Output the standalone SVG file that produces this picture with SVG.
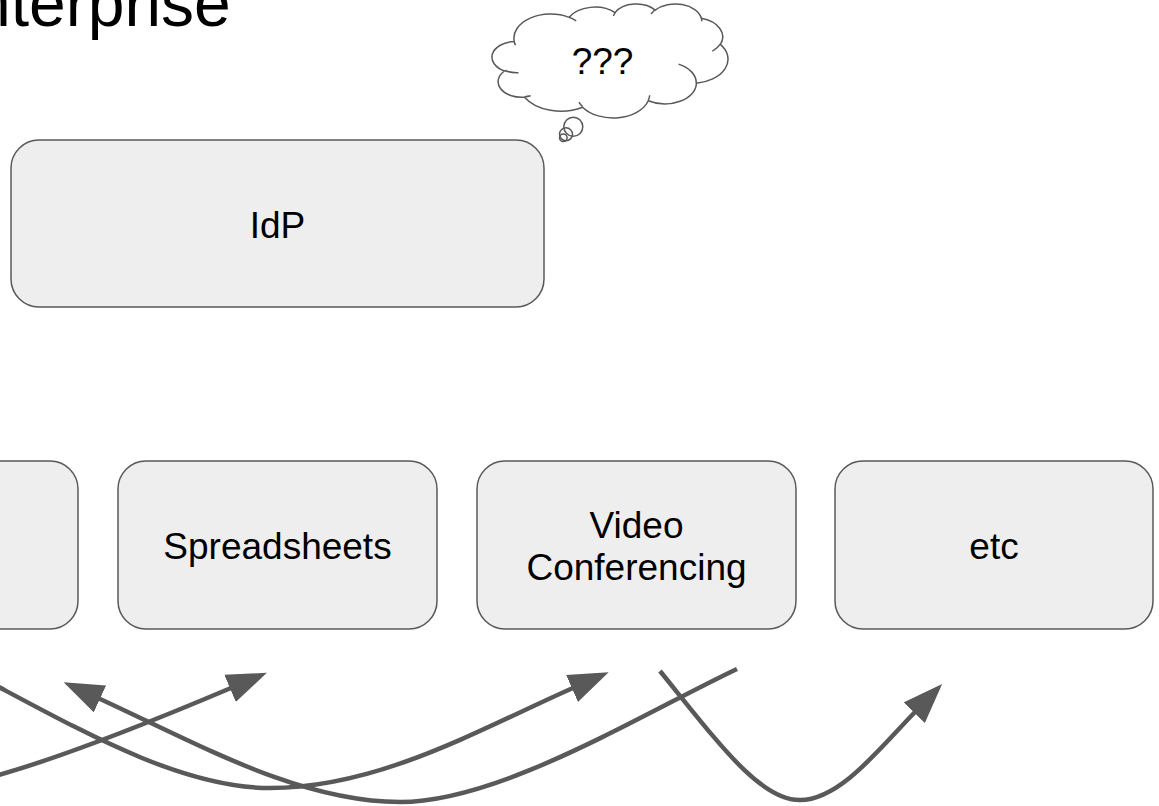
<svg xmlns="http://www.w3.org/2000/svg" width="1159" height="806" viewBox="0 0 1159 806">
  <style>
    .box { fill: #eeeeee; stroke: #595959; stroke-width: 1.5; }
    .lbl { font-family: "Liberation Sans", Arial, sans-serif; font-size: 37px; fill: #000000; text-anchor: middle; }
    .title { font-family: "Liberation Sans", Arial, sans-serif; font-size: 66px; fill: #000000; }
    .cloud { fill: #ffffff; stroke: #595959; stroke-width: 1.5; stroke-linejoin: round; }
    .wrinkle { fill: none; stroke: #595959; stroke-width: 1.5; }
    .conn { fill: none; stroke: #595959; stroke-width: 4.5; stroke-linecap: butt; }
  </style>
  <defs>
    <marker id="ah" markerUnits="userSpaceOnUse" markerWidth="40" markerHeight="30" viewBox="0 0 38 28" refX="1" refY="14" orient="auto">
      <path d="M0,0 L38,14 L0,28 z" fill="#595959"/>
    </marker>
  </defs>
  <rect x="0" y="0" width="1159" height="806" fill="#ffffff"/>

  <g id="title">
    <text class="title" x="-26" y="26">nterprise</text>
  </g>

  <g id="idp">
    <rect class="box" x="11" y="140" width="533" height="167" rx="28" ry="28"/>
    <text class="lbl" x="277.5" y="238">IdP</text>
  </g>

  <g id="thought-cloud">
    <path class="cloud" d="M 514.2 41.5 A 36.72 24.24 0 0 1 569.15 17.33 A 29.0 19.17 0 0 1 615.1 12.65 A 23.73 15.68 0 0 1 655.2 10.14 A 26.41 17.40 0 0 1 701.35 18.30 A 29.0 19.19 0 0 1 720.38 44.38 A 36.84 24.32 0 0 1 696.38 83.27 A 31.45 20.75 0 0 1 648.28 100.71 A 36.71 24.31 0 0 1 582.62 107.18 A 41.97 27.81 0 0 1 524.58 97.17 A 23.71 15.61 0 0 1 504.5 71.0 A 23.62 15.68 0 0 1 514.2 41.5 Z"/>
    <path class="wrinkle" d="M 518.52 72.66 A 23.62 15.68 0 0 1 504.74 70.55 M 530.67 95.66 A 23.71 15.61 0 0 1 524.64 96.67 M 582.59 106.72 A 36.71 24.31 0 0 1 578.96 102.13 M 649.73 95.27 A 36.71 24.31 0 0 1 648.28 100.31 M 678.56 64.15 A 31.45 20.75 0 0 1 696.24 82.98 M 720.26 44.10 A 29.0 19.19 0 0 1 712.38 51.16 M 701.37 17.91 A 26.41 17.40 0 0 1 701.78 21.25 M 651.1 14.03 A 26.41 17.40 0 0 1 655.13 9.77 M 613.38 16.05 A 23.73 15.68 0 0 1 615.33 12.39 M 569.12 17.3 A 36.72 24.24 0 0 1 576.18 20.85 M 515.44 45.25 A 36.72 24.24 0 0 1 514.2 41.5"/>
    <circle class="wrinkle" cx="573.3" cy="126.7" r="9.5"/>
    <circle class="wrinkle" cx="566" cy="134.3" r="6.5"/>
    <circle class="wrinkle" cx="563.3" cy="137.7" r="3.8"/>
    <text class="lbl" x="602.5" y="74">???</text>
  </g>

  <g id="app-left">
    <rect class="box" x="-241" y="461" width="319" height="168" rx="28" ry="28"/>
  </g>

  <g id="spreadsheets">
    <rect class="box" x="118" y="461" width="319" height="168" rx="28" ry="28"/>
    <text class="lbl" x="277.5" y="558.5">Spreadsheets</text>
  </g>

  <g id="video-conferencing">
    <rect class="box" x="477" y="461" width="319" height="168" rx="28" ry="28"/>
    <text class="lbl" x="636.5" y="537.5">Video</text>
    <text class="lbl" x="636.5" y="580">Conferencing</text>
  </g>

  <g id="etc">
    <rect class="box" x="835" y="461" width="318" height="168" rx="28" ry="28"/>
    <text class="lbl" x="994" y="558.5">etc</text>
  </g>

  <g id="connectors">
    <path class="conn" marker-end="url(#ah)" d="M -20 780 C 40 765, 120 735, 231 688"/>
    <path class="conn" marker-end="url(#ah)" d="M -20 677 C 80 730, 180 788, 270 788 C 380 788, 482 728, 573 688"/>
    <path class="conn" marker-end="url(#ah)" d="M 737 669 C 640 715, 500 802, 400 802 C 300 802, 200 745, 99 698.5"/>
    <path class="conn" marker-end="url(#ah)" d="M 660 671 C 720 745, 760 800, 800 800 C 840 800, 880 748, 915 712"/>
  </g>
</svg>
